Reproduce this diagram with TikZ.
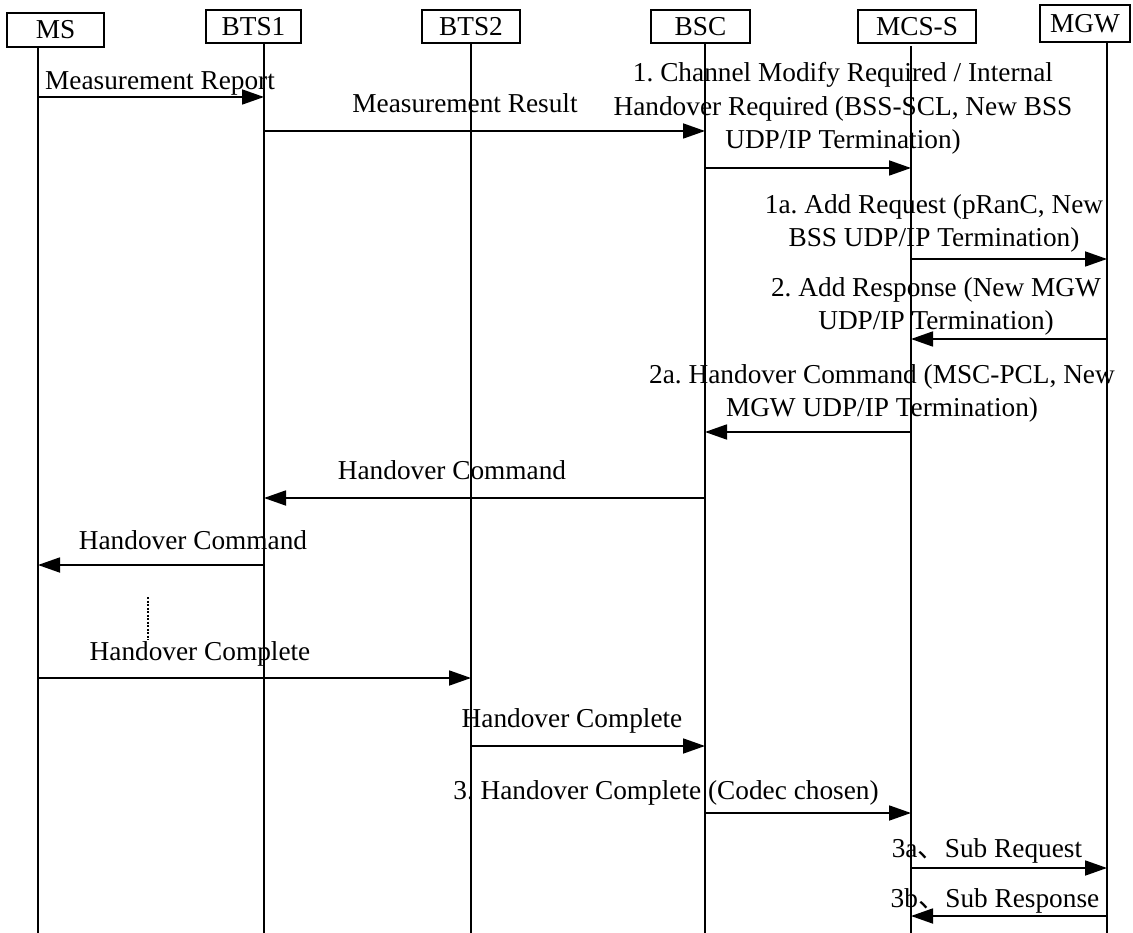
\documentclass[tikz,border=0pt]{standalone}
\usepackage{fontspec}
\setmainfont{Liberation Serif}
\newfontfamily\cjk{Noto Sans CJK SC}
\usetikzlibrary{arrows.meta,positioning}
\frenchspacing

\begin{document}
\begin{tikzpicture}[x=1pt,y=-1pt,>={Triangle[length=22pt,width=15pt]},
  every node/.style={font=\fontsize{27.3}{33.5}\selectfont, inner sep=0pt},
  entity/.style={draw, line width=1.4pt, minimum height=33pt},
  life/.style={line width=1.4pt},
  msg/.style={->, line width=1.8pt},
  lbl/.style={anchor=base, align=center}]
  \useasboundingbox (0,0) rectangle (1133,933);

  % Entities
  \node[entity, minimum width=97pt, minimum height=34pt] (MS) at (55.5,30) {MS};
  \node[entity, minimum width=95pt] (BTS1) at (253.5,26.5) {BTS1};
  \node[entity, minimum width=98pt] (BTS2) at (471,26.5) {BTS2};
  \node[entity, minimum width=99pt] (BSC) at (700.5,26.5) {BSC};
  \node[entity, minimum width=118pt] (MCS) at (917,26.5) {MCS-S};
  \node[entity, minimum width=90pt, minimum height=37pt] (MGW) at (1085,23.5) {MGW};

  % Lifelines
  \foreach \name/\x/\top in {ms/38/47, bts1/264/43, bts2/471/43, bsc/705/43, mcs/911/46, mgw/1107/42} {
    \coordinate (\name) at (\x,\top);
    \coordinate (\name-end) at (\x,933);
    \draw[life] (\name) -- (\name-end);
  }

  % Measurements
  \draw[msg] (ms |- 0,97) -- (bts1 |- 0,97);
  \node[lbl] (mrep) at (160,90) {Measurement Report};
  \draw[msg] (bts1 |- 0,131) -- (bsc |- 0,131);
  \node[lbl] (mres) at (465,113) {Measurement Result};

  % Handover preparation
  \draw[msg] (bsc |- 0,168) -- (mcs |- 0,168);
  \node[lbl] (req) at (843,149) {1. Channel Modify Required / Internal\\
    Handover Required (BSS-SCL, New BSS\\ UDP/IP Termination)};
  \draw[msg] (mcs |- 0,259) -- (mgw |- 0,259);
  \node[lbl] (addreq) at (934,247) {1a. Add Request (pRanC, New\\
    BSS UDP/IP Termination)};
  \draw[msg] (mgw |- 0,339) -- (mcs |- 0,339);
  \node[lbl] (addres) at (936,330) {2. Add Response (New MGW\\
    UDP/IP Termination)};
  \draw[msg] (mcs |- 0,432) -- (bsc |- 0,432);
  \node[lbl] (hocmd) at (882,417) {2a. Handover Command (MSC-PCL, New\\
    MGW UDP/IP Termination)};

  % Handover execution
  \draw[msg] (bsc |- 0,498) -- (bts1 |- 0,498);
  \node[lbl] (cmd1) at (452,479) {Handover Command};
  \draw[msg] (bts1 |- 0,565) -- (ms |- 0,565);
  \node[lbl] (cmd2) at (193,549) {Handover Command};
  \coordinate (gap-top) at (148,597);
  \coordinate (gap-bot) at (148,640);
  \draw[line width=1.4pt, dash pattern=on 2pt off 1.5pt] (gap-top) -- (gap-bot);
  \draw[msg] (ms |- 0,678) -- (bts2 |- 0,678);
  \node[lbl] (cpl1) at (200,660) {Handover Complete};
  \draw[msg] (bts2 |- 0,746) -- (bsc |- 0,746);
  \node[lbl] (cpl2) at (572,727) {Handover Complete};
  \draw[msg] (bsc |- 0,813) -- (mcs |- 0,813);
  \node[lbl] (cpl3) at (666,799) {3. Handover Complete (Codec chosen)};

  % Subtraction
  \draw[msg] (mcs |- 0,868) -- (mgw |- 0,868);
  \node[lbl] (subreq) at (987,857) {3a{\cjk 、}Sub Request};
  \draw[msg] (mgw |- 0,916) -- (mcs |- 0,916);
  \node[lbl] (subres) at (995,907) {3b{\cjk 、}Sub Response};
\end{tikzpicture}
\end{document}
